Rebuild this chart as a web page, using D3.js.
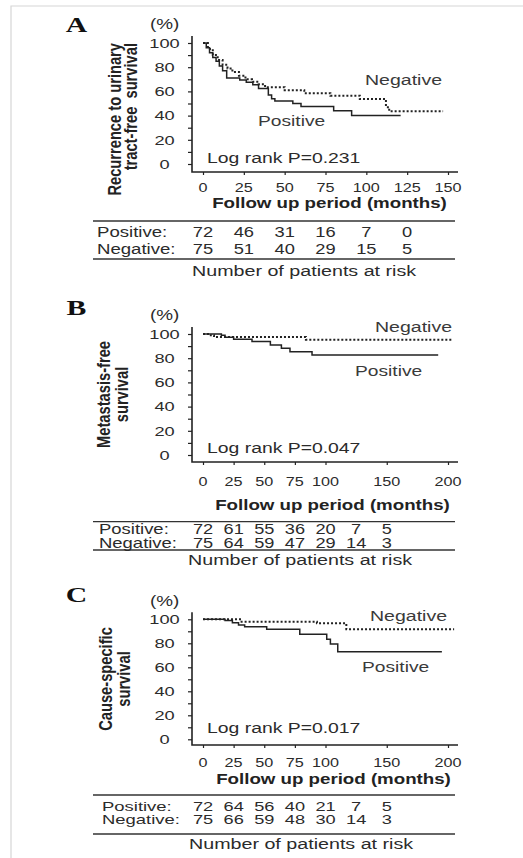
<!DOCTYPE html>
<head>
  <meta charset="utf-8" />
  <script src="https://d3js.org/d3.v7.min.js"></script>
  <style>
    body {
      margin: 0;
      background: #fff;
    }
    svg text {
      font-family: "Liberation Sans", Arial, sans-serif;
    }
  </style>
</head>

<body>
  <script>
    var width = 523,
      height = 858;

    // ---- data ----
    // A: recurrence to urinary tract-free survival
    var posA_t = [0, 2, 4, 6, 8, 10, 12, 14.5, 22.5, 26.5, 30.5, 34, 40, 42, 44, 55, 60, 80, 91, 121];
    var posA_s = [100, 96, 92, 88, 85, 81, 77, 71, 69.5, 67.5, 65.5, 62.5, 57, 54, 52, 50, 47.5, 44, 40, 40];
    var negA_t = [0, 3, 6, 9, 12, 15, 18, 22, 26, 30, 34, 38, 50, 62, 78, 96, 112, 114, 147];
    var negA_s = [100, 95, 90, 86, 82, 79, 76, 73, 70, 68, 66, 63.5, 61, 58.5, 56.5, 53.7, 47, 43.5, 43.5];

    // B: metastasis-free survival
    var posB_t = [0, 15, 18, 25, 40, 55, 64, 71, 89, 192];
    var posB_s = [100, 99, 97.3, 95.6, 93.7, 90.9, 88.2, 85.4, 82.6, 82.6];
    var negB_t = [0, 5, 9, 84, 203];
    var negB_s = [100, 99, 97.5, 95.3, 95.3];

    // C: cause-specific survival
    var posC_t = [0, 18, 24, 29, 34, 52, 79, 101, 104, 110, 195];
    var posC_s = [100, 99, 97.2, 95.3, 93.8, 91.7, 87.5, 83.3, 79.4, 73, 73];
    var negC_t = [0, 31.5, 93, 117, 205];
    var negC_s = [100, 98, 96.7, 91.7, 91.7];

    // number at risk
    var riskTimesA = [0, 25, 50, 75, 100, 125];
    var riskPosA = [72, 46, 31, 16, 7, 0];
    var riskNegA = [75, 51, 40, 29, 15, 5];
    var riskTimesBC = [0, 25, 50, 75, 100, 125, 150];
    var riskPosB = [72, 61, 55, 36, 20, 7, 5];
    var riskNegB = [75, 64, 59, 47, 29, 14, 3];
    var riskPosC = [72, 64, 56, 40, 21, 7, 5];
    var riskNegC = [75, 66, 59, 48, 30, 14, 3];

    // ticks
    var xTicksA = [0, 25, 50, 75, 100, 125, 150];
    var xTicksBC = [0, 25, 50, 75, 100, 150, 200];
    var yTicks = [0, 20, 40, 60, 80, 100];
    var yMinor = d3.range(0, 101, 10);

    var letters = ["A", "B", "C"];
    var yLabels = [
      ["Recurrence to urinary", "tract-free  survival"],
      ["Metastasis-free", "survival"],
      ["Cause-specific", "survival"]
    ];
    var pValues = ["0.231", "0.047", "0.017"];

    // ---- layout (pixel positions per panel) ----
    var layout = [
      { pos: [posA_t, posA_s], neg: [negA_t, negA_s], xMax: 150, xTicks: xTicksA,
        risk: [riskTimesA, riskPosA, riskNegA], tSize: 15.5, tSx: 1.2,
        letterY: 32, pctY: 28.5, y100: 43, y0: 164, axisY: 172, tickBase: 192,
        followX: 329.5, followY: 207.5, tTop: 221, tBot: 259, rowX: 97,
        posY: 236.5, negY: 254, numX: 192, numY: 276, logY: 163,
        negLab: [365, 85], posLab: [258, 126],
        ylab: { anchor: "end", y: 43, x1: 121, x2: 137 } },
      { pos: [posB_t, posB_s], neg: [negB_t, negB_s], xMax: 200, xTicks: xTicksBC,
        risk: [riskTimesBC, riskPosB, riskNegB], tSize: 14, tSx: 1.32,
        letterY: 315, pctY: 320, y100: 334, y0: 455, axisY: 462, tickBase: 486,
        followX: 332.5, followY: 510, tTop: 521.7, tBot: 550, rowX: 99,
        posY: 534, negY: 548, numX: 188, numY: 564.5, logY: 453,
        negLab: [375, 332], posLab: [355, 376],
        ylab: { anchor: "middle", y: 394.5, x1: 110, x2: 128 } },
      { pos: [posC_t, posC_s], neg: [negC_t, negC_s], xMax: 200, xTicks: xTicksBC,
        risk: [riskTimesBC, riskPosC, riskNegC], tSize: 13, tSx: 1.42,
        letterY: 602, pctY: 606, y100: 619.3, y0: 739.3, axisY: 745, tickBase: 767,
        followX: 333.5, followY: 784, tTop: 795, tBot: 834, rowX: 102,
        posY: 810.5, negY: 824.2, numX: 189, numY: 849, logY: 733,
        negLab: [370, 621], posLab: [362, 672],
        ylab: { anchor: "middle", y: 679, x1: 111.5, x2: 130 } }
    ];

    var svg = d3
      .select("body")
      .append("svg")
      .attr("width", width)
      .attr("height", height);

    // light frame of the figure (top and left only)
    svg.append("path")
      .attr("d", "M11,858 L11,6 L523,6")
      .attr("fill", "none")
      .attr("stroke", "#d6d6d6")
      .attr("stroke-width", 1.2);

    // text helper: the figure is a little stretched horizontally
    function txt(g, x, y, s, o) {
      var t = "translate(" + x + "," + y + ") scale(" + (o.sx || 1.2) + ",1)" + (o.rot ? " rotate(-90)" : "");
      return g.append("text")
        .attr("transform", t)
        .attr("text-anchor", o.anchor || "start")
        .style("font-size", o.size + "px")
        .style("font-weight", o.bold ? "bold" : null)
        .style("font-family", o.serif ? "'Liberation Serif', 'Times New Roman', serif" : null)
        .attr("fill", o.fill || "#2b2b2b")
        .text(s);
    }

    var axisX = 192, axisEnd = 458;

    layout.forEach(function (L, i) {
      var g = svg.append("g");

      var x = d3.scaleLinear().domain([0, L.xMax]).range([203, 448]);
      var y = d3.scaleLinear().domain([0, 100]).range([L.y0, L.y100]);

      // y axis ticks (every 10, labels every 20)
      var ya = g.append("g")
        .attr("transform", "translate(" + axisX + ",0)")
        .call(d3.axisLeft(y).tickValues(yMinor).tickSize(4).tickFormat(""));
      ya.select(".domain").remove();
      ya.selectAll("line").attr("stroke", "#222").attr("stroke-width", 1.2);

      yTicks.forEach(function (v) {
        txt(g, 164.5, y(v) + 4.8, v, { size: 13.5, sx: 1.35, anchor: "middle" });
      });

      // x axis
      var xa = g.append("g")
        .attr("transform", "translate(0," + L.axisY + ")")
        .call(d3.axisBottom(x).tickValues(L.xTicks).tickSize(3).tickFormat(""));
      xa.select(".domain").remove();
      xa.selectAll("line").attr("stroke", "#222").attr("stroke-width", 1.2);

      L.xTicks.forEach(function (v) {
        txt(g, x(v), L.tickBase, v, { size: 13.5, sx: 1.2, anchor: "middle" });
      });

      // axis lines
      g.append("path")
        .attr("d", "M" + axisX + "," + (L.y100 - 7) + " L" + axisX + "," + L.axisY + " L" + axisEnd + "," + L.axisY)
        .attr("fill", "none")
        .attr("stroke", "#222")
        .attr("stroke-width", 1.6);

      // curves
      var line = d3.line()
        .x(function (d) { return x(d[0]); })
        .y(function (d) { return y(d[1]); })
        .curve(d3.curveStepAfter);

      g.append("path")
        .datum(d3.zip(L.pos[0], L.pos[1]))
        .attr("d", line)
        .attr("fill", "none")
        .attr("stroke", "#222")
        .attr("stroke-width", 1.5);

      g.append("path")
        .datum(d3.zip(L.neg[0], L.neg[1]))
        .attr("d", line)
        .attr("fill", "none")
        .attr("stroke", "#222")
        .attr("stroke-width", 2)
        .attr("stroke-dasharray", "2,2");

      // labels
      txt(g, 76.5, L.letterY, letters[i], { size: 22, sx: 1.35, anchor: "middle", bold: true, serif: true, fill: "#111" });
      txt(g, 150, L.pctY, "(%)", { size: 14, sx: 1.35 });
      txt(g, 207, L.logY, "Log rank P=" + pValues[i], { size: 15.5, sx: 1.25 });
      txt(g, L.negLab[0], L.negLab[1], "Negative", { size: 15.5, sx: 1.26, fill: "#3a3a3a" });
      txt(g, L.posLab[0], L.posLab[1], "Positive", { size: 15.5, sx: 1.24, fill: "#3a3a3a" });

      txt(g, L.ylab.x1, L.ylab.y, yLabels[i][0], { size: 14.7, sx: 1.3, rot: true, bold: true, anchor: L.ylab.anchor, fill: "#222" })
        .attr("xml:space", "preserve");
      txt(g, L.ylab.x2, L.ylab.y, yLabels[i][1], { size: 14.7, sx: 1.3, rot: true, bold: true, anchor: L.ylab.anchor, fill: "#222" })
        .attr("xml:space", "preserve");

      txt(g, L.followX, L.followY, "Follow up period (months)", { size: 14.5, sx: 1.29, bold: true, anchor: "middle", fill: "#222" });

      // risk table
      [L.tTop, L.tBot].forEach(function (ly) {
        g.append("line")
          .attr("x1", 93).attr("x2", 455)
          .attr("y1", ly).attr("y2", ly)
          .attr("stroke", "#333")
          .attr("stroke-width", 1.3);
      });
      txt(g, L.rowX, L.posY, "Positive:", { size: L.tSize, sx: L.tSx });
      txt(g, L.rowX, L.negY, "Negative:", { size: L.tSize, sx: L.tSx });
      L.risk[0].forEach(function (t, k) {
        txt(g, x(t), L.posY, L.risk[1][k], { size: L.tSize, sx: L.tSx - 0.02, anchor: "middle" });
        txt(g, x(t), L.negY, L.risk[2][k], { size: L.tSize, sx: L.tSx - 0.02, anchor: "middle" });
      });
      txt(g, L.numX, L.numY, "Number of patients at risk", { size: 15.5, sx: 1.27 });
    });
  </script>
</body>
